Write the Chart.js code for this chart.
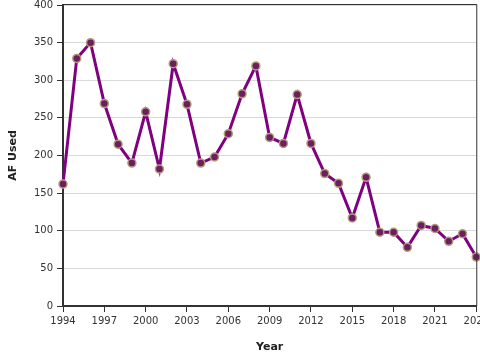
<!DOCTYPE html>
<html>
<head>
<meta charset="utf-8">
<script src="https://cdn.jsdelivr.net/npm/chart.js@4/dist/chart.umd.min.js"></script>
<style>
html,body{margin:0;padding:0;background:#fff;overflow:hidden;width:480px;height:360px;}
#wrap{width:480px;height:360px;overflow:hidden;position:relative;}
#c{position:absolute;left:0;top:-5px;}
</style>
</head>
<body>
<div id="wrap"><canvas id="c" width="492" height="365"></canvas></div>
<script>
const years = [1994,1995,1996,1997,1998,1999,2000,2001,2002,2003,2004,2005,2006,2007,2008,2009,2010,2011,2012,2013,2014,2015,2016,2017,2018,2019,2020,2021,2022,2023,2024];
const afUsed = [162,329,350,269,215,190,258,182,322,268,190,198,229,282,319,224,216,281,216,176,163,117,171,98,98,78,107,103,86,96,65];
const yTicks = [0,50,100,150,200,250,300,350,400];
const xTickEvery = 3;

const boxPlugin = {
  id:'box',
  afterDraw(chart){
    const {ctx, chartArea:a} = chart;
    ctx.save();
    ctx.strokeStyle='#333';
    ctx.lineWidth=1;
    ctx.beginPath();
    ctx.moveTo(a.left, a.top-0.5);
    ctx.lineTo(a.right+0.5, a.top-0.5);
    ctx.lineTo(a.right+0.5, a.bottom);
    ctx.stroke();
    ctx.restore();
  }
};

new Chart(document.getElementById('c'), {
  type:'line',
  data:{
    labels: years.map(String),
    datasets:[{
      data: afUsed,
      borderColor:'#800080',
      borderWidth:3,
      tension:0,
      pointRadius:4,
      pointBorderWidth:1.5,
      pointBackgroundColor:'#6b1f5e',
      pointBorderColor:'#b39c7c',
      clip:false
    }]
  },
  options:{
    responsive:false,
    animation:false,
    devicePixelRatio:1,
    layout:{autoPadding:false,padding:{top:0,left:0,right:0,bottom:0}},
    plugins:{legend:{display:false},tooltip:{enabled:false}},
    scales:{
      x:{
        type:'category',
        offset:false,
        afterFit:(s)=>{s.height=54;},
        grid:{
          drawOnChartArea:false,
          drawTicks:true,
          tickLength:6,
          color:(c)=> (c.index % xTickEvery === 0) ? '#333' : 'rgba(0,0,0,0)',
          lineWidth:1
        },
        border:{color:'#333',width:2},
        ticks:{
          autoSkip:false,
          maxRotation:0,
          minRotation:0,
          color:'#333',
          font:{family:'DejaVu Sans',size:10},
          padding:3,
          callback:function(v,i){return (i % xTickEvery === 0) ? years[i] : '';}
        },
        title:{display:true,text:'Year',color:'#222',font:{family:'DejaVu Sans',size:11,weight:'bold'},padding:{top:6,bottom:6}}
      },
      y:{
        min:0,max:400,
        afterFit:(s)=>{s.width=63;},
        afterBuildTicks:(s)=>{s.ticks = yTicks.map(v=>({value:v}));},
        grid:{color:'#d9d9d9',lineWidth:1,tickLength:6,tickColor:'#333'},
        border:{color:'#333',width:2},
        ticks:{color:'#333',font:{family:'DejaVu Sans',size:10},padding:4},
        title:{display:true,text:'AF Used',color:'#222',font:{family:'DejaVu Sans',size:11,weight:'bold'},padding:{top:7,bottom:7}}
      }
    }
  },
  plugins:[boxPlugin]
});
</script>
</body>
</html>
